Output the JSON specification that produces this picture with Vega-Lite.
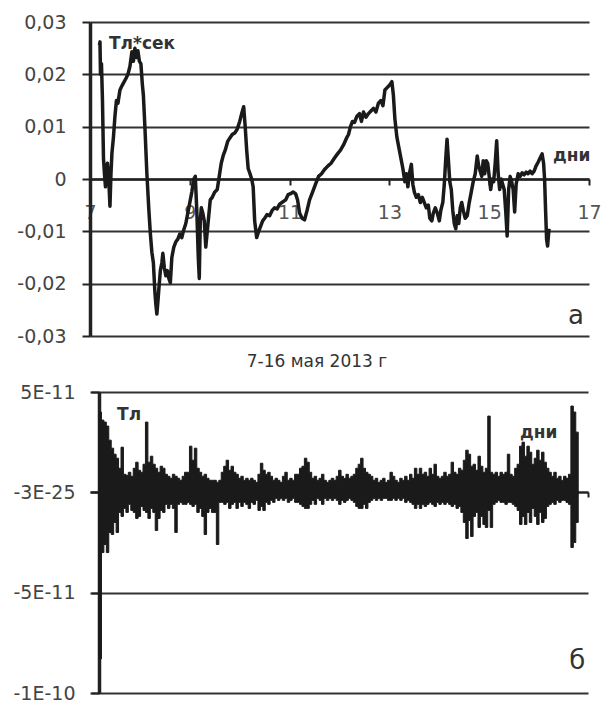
{
  "$schema": "https://vega.github.io/schema/vega-lite/v6.json",
  "padding": {"left": 4, "top": 13, "right": 5, "bottom": 0},
  "background": "white",
  "config": {"view": {"stroke": null}, "font": "DejaVu Sans", "concat": {"spacing": 7}},
  "datasets": {
    "top": [
      {"t":7.19,"v":0.0255},{"t":7.20,"v":0.0262},{"t":7.21,"v":0.0200},{"t":7.23,"v":0.0220},{"t":7.25,"v":0.0150},
      {"t":7.27,"v":0.0040},{"t":7.29,"v":0.0010},{"t":7.31,"v":-0.0015},{"t":7.33,"v":0.0020},{"t":7.35,"v":0.0030},
      {"t":7.38,"v":-0.0010},{"t":7.40,"v":-0.0052},{"t":7.42,"v":0.0010},{"t":7.44,"v":0.0050},{"t":7.47,"v":0.0080},
      {"t":7.50,"v":0.0120},{"t":7.53,"v":0.0150},{"t":7.56,"v":0.0145},{"t":7.60,"v":0.0170},{"t":7.64,"v":0.0178},
      {"t":7.68,"v":0.0185},{"t":7.72,"v":0.0192},{"t":7.76,"v":0.0200},{"t":7.80,"v":0.0215},{"t":7.84,"v":0.0243},
      {"t":7.87,"v":0.0225},{"t":7.90,"v":0.0250},{"t":7.93,"v":0.0232},{"t":7.96,"v":0.0245},{"t":7.99,"v":0.0225},
      {"t":8.02,"v":0.0220},{"t":8.05,"v":0.0180},{"t":8.07,"v":0.0160},{"t":8.10,"v":0.0100},{"t":8.14,"v":0.0010},
      {"t":8.18,"v":-0.0060},{"t":8.21,"v":-0.0105},{"t":8.24,"v":-0.0140},{"t":8.27,"v":-0.0160},{"t":8.30,"v":-0.0215},
      {"t":8.32,"v":-0.0240},{"t":8.34,"v":-0.0258},{"t":8.36,"v":-0.0235},{"t":8.38,"v":-0.0210},{"t":8.41,"v":-0.0175},
      {"t":8.44,"v":-0.0160},{"t":8.46,"v":-0.0142},{"t":8.49,"v":-0.0170},{"t":8.52,"v":-0.0185},{"t":8.55,"v":-0.0175},
      {"t":8.58,"v":-0.0190},{"t":8.61,"v":-0.0198},{"t":8.64,"v":-0.0150},{"t":8.68,"v":-0.0130},{"t":8.72,"v":-0.0120},
      {"t":8.76,"v":-0.0115},{"t":8.80,"v":-0.0105},{"t":8.84,"v":-0.0112},{"t":8.87,"v":-0.0100},{"t":8.92,"v":-0.0085},
      {"t":8.96,"v":-0.0065},{"t":9.00,"v":-0.0045},{"t":9.04,"v":-0.0025},{"t":9.08,"v":0.0000},{"t":9.11,"v":0.0005},
      {"t":9.14,"v":-0.0060},{"t":9.17,"v":-0.0150},{"t":9.19,"v":-0.0190},{"t":9.21,"v":-0.0080},{"t":9.23,"v":-0.0055},
      {"t":9.26,"v":-0.0065},{"t":9.29,"v":-0.0080},{"t":9.32,"v":-0.0130},{"t":9.35,"v":-0.0100},{"t":9.38,"v":-0.0070},
      {"t":9.41,"v":-0.0040},{"t":9.45,"v":-0.0035},{"t":9.50,"v":-0.0025},{"t":9.55,"v":-0.0020},{"t":9.59,"v":0.0005},
      {"t":9.63,"v":0.0030},{"t":9.67,"v":0.0045},{"t":9.71,"v":0.0055},{"t":9.76,"v":0.0072},{"t":9.80,"v":0.0078},
      {"t":9.85,"v":0.0085},{"t":9.90,"v":0.0088},{"t":9.95,"v":0.0095},{"t":10.00,"v":0.0110},{"t":10.04,"v":0.0125},
      {"t":10.08,"v":0.0138},{"t":10.11,"v":0.0100},{"t":10.14,"v":0.0055},{"t":10.17,"v":0.0020},{"t":10.20,"v":0.0012},
      {"t":10.24,"v":0.0000},{"t":10.27,"v":-0.0015},{"t":10.30,"v":-0.0080},{"t":10.34,"v":-0.0112},{"t":10.38,"v":-0.0100},
      {"t":10.42,"v":-0.0090},{"t":10.46,"v":-0.0080},{"t":10.50,"v":-0.0075},{"t":10.55,"v":-0.0068},{"t":10.60,"v":-0.0070},
      {"t":10.65,"v":-0.0060},{"t":10.70,"v":-0.0055},{"t":10.75,"v":-0.0057},{"t":10.80,"v":-0.0048},{"t":10.86,"v":-0.0044},
      {"t":10.92,"v":-0.0040},{"t":10.97,"v":-0.0030},{"t":11.02,"v":-0.0028},{"t":11.07,"v":-0.0025},{"t":11.12,"v":-0.0028},
      {"t":11.16,"v":-0.0040},{"t":11.20,"v":-0.0065},{"t":11.25,"v":-0.0075},{"t":11.30,"v":-0.0078},{"t":11.35,"v":-0.0060},
      {"t":11.40,"v":-0.0040},{"t":11.46,"v":-0.0025},{"t":11.52,"v":-0.0010},{"t":11.58,"v":0.0005},{"t":11.64,"v":0.0010},
      {"t":11.70,"v":0.0018},{"t":11.77,"v":0.0025},{"t":11.83,"v":0.0030},{"t":11.90,"v":0.0040},{"t":11.96,"v":0.0048},
      {"t":12.02,"v":0.0055},{"t":12.08,"v":0.0065},{"t":12.14,"v":0.0078},{"t":12.18,"v":0.0085},{"t":12.22,"v":0.0100},
      {"t":12.26,"v":0.0110},{"t":12.30,"v":0.0108},{"t":12.35,"v":0.0120},{"t":12.40,"v":0.0125},{"t":12.44,"v":0.0110},
      {"t":12.48,"v":0.0128},{"t":12.53,"v":0.0118},{"t":12.58,"v":0.0125},{"t":12.63,"v":0.0130},{"t":12.68,"v":0.0135},
      {"t":12.73,"v":0.0128},{"t":12.78,"v":0.0145},{"t":12.83,"v":0.0150},{"t":12.87,"v":0.0140},{"t":12.91,"v":0.0170},
      {"t":12.96,"v":0.0175},{"t":13.01,"v":0.0180},{"t":13.05,"v":0.0186},{"t":13.08,"v":0.0160},{"t":13.11,"v":0.0115},
      {"t":13.15,"v":0.0080},{"t":13.19,"v":0.0060},{"t":13.23,"v":0.0040},{"t":13.27,"v":0.0020},{"t":13.31,"v":-0.0005},
      {"t":13.34,"v":0.0010},{"t":13.37,"v":-0.0015},{"t":13.40,"v":0.0010},{"t":13.44,"v":0.0028},{"t":13.47,"v":-0.0010},
      {"t":13.50,"v":-0.0025},{"t":13.54,"v":-0.0035},{"t":13.58,"v":-0.0030},{"t":13.62,"v":-0.0045},{"t":13.66,"v":-0.0035},
      {"t":13.70,"v":-0.0045},{"t":13.74,"v":-0.0055},{"t":13.78,"v":-0.0050},{"t":13.81,"v":-0.0075},{"t":13.85,"v":-0.0080},
      {"t":13.88,"v":-0.0065},{"t":13.92,"v":-0.0055},{"t":13.96,"v":-0.0065},{"t":14.00,"v":-0.0080},{"t":14.03,"v":-0.0060},
      {"t":14.07,"v":-0.0045},{"t":14.10,"v":-0.0010},{"t":14.13,"v":0.0040},{"t":14.155,"v":0.0076},{"t":14.18,"v":0.0040},
      {"t":14.21,"v":-0.0005},{"t":14.24,"v":-0.0020},{"t":14.27,"v":-0.0060},{"t":14.30,"v":-0.0085},{"t":14.33,"v":-0.0095},
      {"t":14.36,"v":-0.0070},{"t":14.39,"v":-0.0085},{"t":14.42,"v":-0.0055},{"t":14.45,"v":-0.0045},{"t":14.48,"v":-0.0060},
      {"t":14.52,"v":-0.0075},{"t":14.56,"v":-0.0070},{"t":14.60,"v":-0.0045},{"t":14.64,"v":-0.0025},{"t":14.68,"v":-0.0005},
      {"t":14.72,"v":0.0010},{"t":14.76,"v":0.0044},{"t":14.79,"v":0.0025},{"t":14.82,"v":0.0015},{"t":14.85,"v":0.0005},
      {"t":14.88,"v":0.0035},{"t":14.91,"v":0.0010},{"t":14.94,"v":0.0035},{"t":14.97,"v":0.0030},{"t":15.00,"v":0.0005},
      {"t":15.03,"v":-0.0020},{"t":15.06,"v":0.0000},{"t":15.09,"v":-0.0005},{"t":15.12,"v":0.0030},{"t":15.15,"v":0.0073},
      {"t":15.18,"v":0.0010},{"t":15.21,"v":-0.0020},{"t":15.24,"v":0.0000},{"t":15.27,"v":-0.0010},{"t":15.30,"v":-0.0020},
      {"t":15.33,"v":-0.0060},{"t":15.36,"v":-0.0109},{"t":15.39,"v":-0.0020},{"t":15.42,"v":0.0005},{"t":15.45,"v":-0.0005},
      {"t":15.48,"v":-0.0020},{"t":15.51,"v":-0.0063},{"t":15.54,"v":-0.0010},{"t":15.58,"v":0.0010},{"t":15.62,"v":0.0005},
      {"t":15.66,"v":0.0012},{"t":15.70,"v":0.0008},{"t":15.74,"v":0.0013},{"t":15.78,"v":0.0010},{"t":15.82,"v":0.0015},
      {"t":15.86,"v":0.0010},{"t":15.90,"v":0.0015},{"t":15.94,"v":0.0025},{"t":15.98,"v":0.0032},{"t":16.02,"v":0.0040},
      {"t":16.06,"v":0.0048},{"t":16.09,"v":0.0030},{"t":16.11,"v":0.0000},{"t":16.13,"v":-0.0060},{"t":16.15,"v":-0.0115},
      {"t":16.17,"v":-0.0128},{"t":16.19,"v":-0.0105},{"t":16.20,"v":-0.0095}
    ],
    "bot": [
      {"t":7.00,"hi":4.0e-11,"lo":-8.3e-11},{"t":7.05,"hi":3.6e-11,"lo":-3.0e-11},{"t":7.10,"hi":3.5e-11,"lo":-2.6e-11},
      {"t":7.15,"hi":3.3e-11,"lo":-3.0e-11},{"t":7.20,"hi":2.6e-11,"lo":-2.0e-11},{"t":7.25,"hi":2.2e-11,"lo":-2.1e-11},
      {"t":7.30,"hi":1.9e-11,"lo":-1.5e-11},{"t":7.35,"hi":1.7e-11,"lo":-2.0e-11},{"t":7.40,"hi":1.2e-11,"lo":-1.0e-11},
      {"t":7.45,"hi":2.25e-11,"lo":-1.2e-11},{"t":7.50,"hi":0.9e-11,"lo":-0.8e-11},{"t":7.55,"hi":0.85e-11,"lo":-1.0e-11},
      {"t":7.60,"hi":1.0e-11,"lo":-0.6e-11},{"t":7.65,"hi":0.8e-11,"lo":-0.9e-11},{"t":7.70,"hi":1.2e-11,"lo":-1.0e-11},
      {"t":7.75,"hi":1.5e-11,"lo":-1.3e-11},{"t":7.80,"hi":1.1e-11,"lo":-1.2e-11},{"t":7.85,"hi":1.0e-11,"lo":-0.7e-11},
      {"t":7.90,"hi":1.4e-11,"lo":-0.9e-11},{"t":7.95,"hi":3.5e-11,"lo":-1.0e-11},{"t":8.00,"hi":1.5e-11,"lo":-1.3e-11},
      {"t":8.05,"hi":1.8e-11,"lo":-0.8e-11},{"t":8.10,"hi":1.4e-11,"lo":-1.0e-11},{"t":8.15,"hi":1.2e-11,"lo":-1.9e-11},
      {"t":8.20,"hi":1.0e-11,"lo":-1.3e-11},{"t":8.25,"hi":1.3e-11,"lo":-0.9e-11},{"t":8.30,"hi":1.2e-11,"lo":-1.0e-11},
      {"t":8.35,"hi":0.9e-11,"lo":-0.6e-11},{"t":8.40,"hi":0.8e-11,"lo":-0.8e-11},{"t":8.45,"hi":0.7e-11,"lo":-0.6e-11},
      {"t":8.50,"hi":0.9e-11,"lo":-0.8e-11},{"t":8.55,"hi":0.8e-11,"lo":-2.0e-11},{"t":8.60,"hi":0.7e-11,"lo":-0.6e-11},
      {"t":8.65,"hi":0.6e-11,"lo":-0.5e-11},{"t":8.70,"hi":0.8e-11,"lo":-0.6e-11},{"t":8.75,"hi":1.0e-11,"lo":-0.6e-11},
      {"t":8.80,"hi":1.0e-11,"lo":-0.5e-11},{"t":8.85,"hi":2.3e-11,"lo":-0.6e-11},{"t":8.90,"hi":1.6e-11,"lo":-0.7e-11},
      {"t":8.95,"hi":2.2e-11,"lo":-0.6e-11},{"t":9.00,"hi":1.2e-11,"lo":-1.0e-11},{"t":9.05,"hi":1.0e-11,"lo":-0.8e-11},
      {"t":9.10,"hi":0.8e-11,"lo":-1.2e-11},{"t":9.15,"hi":0.9e-11,"lo":-2.1e-11},{"t":9.20,"hi":0.7e-11,"lo":-1.0e-11},
      {"t":9.25,"hi":0.6e-11,"lo":-0.8e-11},{"t":9.30,"hi":0.6e-11,"lo":-1.0e-11},{"t":9.35,"hi":0.6e-11,"lo":-1.0e-11},
      {"t":9.40,"hi":0.5e-11,"lo":-2.6e-11},{"t":9.45,"hi":0.6e-11,"lo":-0.5e-11},{"t":9.50,"hi":1.0e-11,"lo":-0.5e-11},
      {"t":9.55,"hi":1.3e-11,"lo":-0.6e-11},{"t":9.60,"hi":1.6e-11,"lo":-0.5e-11},{"t":9.65,"hi":1.1e-11,"lo":-0.8e-11},
      {"t":9.70,"hi":1.3e-11,"lo":-0.6e-11},{"t":9.75,"hi":1.0e-11,"lo":-0.5e-11},{"t":9.80,"hi":0.9e-11,"lo":-0.8e-11},
      {"t":9.85,"hi":0.7e-11,"lo":-0.5e-11},{"t":9.90,"hi":0.8e-11,"lo":-0.7e-11},{"t":9.95,"hi":0.6e-11,"lo":-0.5e-11},
      {"t":10.00,"hi":0.7e-11,"lo":-0.6e-11},{"t":10.05,"hi":0.6e-11,"lo":-0.8e-11},{"t":10.10,"hi":0.7e-11,"lo":-0.5e-11},
      {"t":10.15,"hi":0.6e-11,"lo":-0.6e-11},{"t":10.20,"hi":0.5e-11,"lo":-0.4e-11},{"t":10.25,"hi":0.9e-11,"lo":-0.9e-11},
      {"t":10.30,"hi":1.45e-11,"lo":-0.7e-11},{"t":10.35,"hi":1.1e-11,"lo":-0.9e-11},{"t":10.40,"hi":0.9e-11,"lo":-0.5e-11},
      {"t":10.45,"hi":1.0e-11,"lo":-0.6e-11},{"t":10.50,"hi":0.8e-11,"lo":-0.4e-11},{"t":10.55,"hi":0.6e-11,"lo":-0.5e-11},
      {"t":10.60,"hi":0.7e-11,"lo":-0.3e-11},{"t":10.65,"hi":0.6e-11,"lo":-0.4e-11},{"t":10.70,"hi":0.5e-11,"lo":-0.3e-11},
      {"t":10.75,"hi":0.8e-11,"lo":-0.4e-11},{"t":10.80,"hi":1.0e-11,"lo":-0.3e-11},{"t":10.85,"hi":0.6e-11,"lo":-0.5e-11},
      {"t":10.90,"hi":0.7e-11,"lo":-0.4e-11},{"t":10.95,"hi":0.6e-11,"lo":-0.3e-11},{"t":11.00,"hi":0.9e-11,"lo":-0.5e-11},
      {"t":11.05,"hi":0.9e-11,"lo":-0.5e-11},{"t":11.10,"hi":1.2e-11,"lo":-0.6e-11},{"t":11.15,"hi":1.3e-11,"lo":-0.7e-11},
      {"t":11.20,"hi":1.7e-11,"lo":-0.8e-11},{"t":11.25,"hi":1.5e-11,"lo":-0.8e-11},{"t":11.30,"hi":1.0e-11,"lo":-0.6e-11},
      {"t":11.35,"hi":0.7e-11,"lo":-0.4e-11},{"t":11.40,"hi":0.8e-11,"lo":-0.6e-11},{"t":11.45,"hi":0.6e-11,"lo":-0.3e-11},
      {"t":11.50,"hi":0.7e-11,"lo":-0.4e-11},{"t":11.55,"hi":0.9e-11,"lo":-0.6e-11},{"t":11.60,"hi":0.6e-11,"lo":-0.3e-11},
      {"t":11.65,"hi":0.5e-11,"lo":-0.4e-11},{"t":11.70,"hi":0.6e-11,"lo":-0.3e-11},{"t":11.75,"hi":0.7e-11,"lo":-0.4e-11},
      {"t":11.80,"hi":0.6e-11,"lo":-0.3e-11},{"t":11.85,"hi":0.8e-11,"lo":-0.4e-11},{"t":11.90,"hi":1.1e-11,"lo":-0.6e-11},
      {"t":11.95,"hi":0.8e-11,"lo":-0.4e-11},{"t":12.00,"hi":0.7e-11,"lo":-0.5e-11},{"t":12.05,"hi":0.9e-11,"lo":-0.4e-11},
      {"t":12.10,"hi":0.7e-11,"lo":-0.3e-11},{"t":12.15,"hi":0.8e-11,"lo":-0.4e-11},{"t":12.20,"hi":0.9e-11,"lo":-0.5e-11},
      {"t":12.25,"hi":1.2e-11,"lo":-0.7e-11},{"t":12.30,"hi":1.4e-11,"lo":-0.8e-11},{"t":12.35,"hi":1.7e-11,"lo":-0.8e-11},
      {"t":12.40,"hi":1.2e-11,"lo":-0.6e-11},{"t":12.45,"hi":1.0e-11,"lo":-0.8e-11},{"t":12.50,"hi":0.9e-11,"lo":-0.5e-11},
      {"t":12.55,"hi":0.8e-11,"lo":-0.4e-11},{"t":12.60,"hi":0.6e-11,"lo":-0.3e-11},{"t":12.65,"hi":0.7e-11,"lo":-0.4e-11},
      {"t":12.70,"hi":0.5e-11,"lo":-0.3e-11},{"t":12.75,"hi":0.6e-11,"lo":-0.4e-11},{"t":12.80,"hi":0.7e-11,"lo":-0.3e-11},
      {"t":12.85,"hi":0.5e-11,"lo":-0.3e-11},{"t":12.90,"hi":0.6e-11,"lo":-0.4e-11},{"t":12.95,"hi":1.0e-11,"lo":-0.4e-11},
      {"t":13.00,"hi":0.8e-11,"lo":-0.3e-11},{"t":13.05,"hi":0.6e-11,"lo":-0.4e-11},{"t":13.10,"hi":0.5e-11,"lo":-0.3e-11},
      {"t":13.15,"hi":0.7e-11,"lo":-0.4e-11},{"t":13.20,"hi":0.6e-11,"lo":-0.3e-11},{"t":13.25,"hi":0.8e-11,"lo":-0.5e-11},
      {"t":13.30,"hi":0.6e-11,"lo":-0.4e-11},{"t":13.35,"hi":0.9e-11,"lo":-0.5e-11},{"t":13.40,"hi":0.7e-11,"lo":-0.6e-11},
      {"t":13.45,"hi":1.2e-11,"lo":-0.8e-11},{"t":13.50,"hi":0.9e-11,"lo":-0.6e-11},{"t":13.55,"hi":1.2e-11,"lo":-0.8e-11},
      {"t":13.60,"hi":0.9e-11,"lo":-0.6e-11},{"t":13.65,"hi":1.0e-11,"lo":-0.7e-11},{"t":13.70,"hi":0.8e-11,"lo":-0.6e-11},
      {"t":13.75,"hi":1.2e-11,"lo":-0.5e-11},{"t":13.80,"hi":0.9e-11,"lo":-0.6e-11},{"t":13.85,"hi":1.4e-11,"lo":-0.7e-11},
      {"t":13.90,"hi":0.8e-11,"lo":-0.5e-11},{"t":13.95,"hi":0.7e-11,"lo":-0.6e-11},{"t":14.00,"hi":0.8e-11,"lo":-0.5e-11},
      {"t":14.05,"hi":1.0e-11,"lo":-0.6e-11},{"t":14.10,"hi":0.8e-11,"lo":-0.5e-11},{"t":14.15,"hi":0.9e-11,"lo":-0.6e-11},
      {"t":14.20,"hi":1.5e-11,"lo":-0.7e-11},{"t":14.25,"hi":1.0e-11,"lo":-0.6e-11},{"t":14.30,"hi":0.9e-11,"lo":-0.8e-11},
      {"t":14.35,"hi":1.2e-11,"lo":-0.7e-11},{"t":14.40,"hi":1.1e-11,"lo":-1.0e-11},{"t":14.45,"hi":1.6e-11,"lo":-1.5e-11},
      {"t":14.50,"hi":2.1e-11,"lo":-2.3e-11},{"t":14.55,"hi":1.9e-11,"lo":-1.4e-11},{"t":14.60,"hi":1.3e-11,"lo":-2.2e-11},
      {"t":14.65,"hi":1.4e-11,"lo":-1.2e-11},{"t":14.70,"hi":1.1e-11,"lo":-1.0e-11},{"t":14.75,"hi":1.8e-11,"lo":-1.75e-11},
      {"t":14.80,"hi":1.3e-11,"lo":-1.2e-11},{"t":14.85,"hi":1.0e-11,"lo":-1.6e-11},{"t":14.90,"hi":1.2e-11,"lo":-1.75e-11},
      {"t":14.95,"hi":3.8e-11,"lo":-0.9e-11},{"t":15.00,"hi":1.0e-11,"lo":-1.75e-11},{"t":15.05,"hi":0.9e-11,"lo":-0.6e-11},
      {"t":15.10,"hi":1.0e-11,"lo":-0.5e-11},{"t":15.15,"hi":0.8e-11,"lo":-0.4e-11},{"t":15.20,"hi":1.0e-11,"lo":-0.5e-11},
      {"t":15.25,"hi":0.9e-11,"lo":-0.5e-11},{"t":15.30,"hi":1.0e-11,"lo":-0.6e-11},{"t":15.35,"hi":1.9e-11,"lo":-0.5e-11},
      {"t":15.40,"hi":0.9e-11,"lo":-0.5e-11},{"t":15.45,"hi":0.8e-11,"lo":-0.6e-11},{"t":15.50,"hi":1.2e-11,"lo":-0.7e-11},
      {"t":15.55,"hi":1.4e-11,"lo":-0.9e-11},{"t":15.60,"hi":2.3e-11,"lo":-1.6e-11},{"t":15.65,"hi":2.5e-11,"lo":-1.2e-11},
      {"t":15.70,"hi":1.8e-11,"lo":-1.6e-11},{"t":15.75,"hi":2.3e-11,"lo":-1.0e-11},{"t":15.80,"hi":2.0e-11,"lo":-1.5e-11},
      {"t":15.85,"hi":1.4e-11,"lo":-0.8e-11},{"t":15.90,"hi":1.7e-11,"lo":-1.2e-11},{"t":15.95,"hi":2.1e-11,"lo":-1.6e-11},
      {"t":16.00,"hi":1.6e-11,"lo":-1.0e-11},{"t":16.05,"hi":2.0e-11,"lo":-1.5e-11},{"t":16.10,"hi":1.5e-11,"lo":-1.3e-11},
      {"t":16.15,"hi":1.2e-11,"lo":-0.7e-11},{"t":16.20,"hi":1.0e-11,"lo":-0.6e-11},{"t":16.25,"hi":0.8e-11,"lo":-0.5e-11},
      {"t":16.30,"hi":1.0e-11,"lo":-0.6e-11},{"t":16.35,"hi":0.7e-11,"lo":-0.4e-11},{"t":16.40,"hi":0.8e-11,"lo":-0.5e-11},
      {"t":16.45,"hi":0.6e-11,"lo":-0.4e-11},{"t":16.50,"hi":0.8e-11,"lo":-0.4e-11},{"t":16.55,"hi":0.7e-11,"lo":-0.5e-11},
      {"t":16.60,"hi":0.9e-11,"lo":-0.6e-11},{"t":16.65,"hi":4.3e-11,"lo":-2.75e-11},{"t":16.70,"hi":4.0e-11,"lo":-2.5e-11},
      {"t":16.75,"hi":3.0e-11,"lo":-1.5e-11},{"t":16.80,"hi":0.5e-11,"lo":-0.3e-11}
    ]
  },
  "vconcat": [
    {
      "width": 499,
      "height": 314,
      "layer": [
        {
          "data": {"name": "top"},
          "mark": {"type": "line", "color": "#1a1a1a", "strokeWidth": 3.5, "strokeJoin": "round"},
          "encoding": {
            "x": {
              "field": "t", "type": "quantitative",
              "scale": {"domain": [7, 17], "nice": false, "zero": false},
              "axis": {
                "orient": "bottom", "offset": -157, "values": [7, 9, 11, 13, 15, 17], "format": "d",
                "grid": false, "domainColor": "#222", "domainWidth": 2.5,
                "tickSize": 6, "tickColor": "#222", "tickWidth": 2,
                "labelFontSize": 19, "labelColor": "#555", "labelPadding": 18,
                "labelFlush": false, "labelOverlap": false, "labelBound": false, "title": null
              }
            },
            "y": {
              "field": "v", "type": "quantitative",
              "scale": {"domain": [-0.03, 0.03], "nice": false},
              "axis": {
                "values": [-0.03, -0.02, -0.01, 0, 0.01, 0.02, 0.03],
                "labelExpr": "datum.value == 0 ? '0' : (datum.value < 0 ? '-' : '') + '0,0' + format(abs(datum.value) * 100, 'd')",
                "grid": true, "gridColor": "#333", "gridWidth": 2,
                "domainColor": "#222", "domainWidth": 3.5,
                "tickSize": 8, "tickColor": "#222", "tickWidth": 2,
                "labelFontSize": 19, "labelColor": "#444", "labelPadding": 16,
                "title": "x", "titleOpacity": 0, "titleFontSize": 1, "titlePadding": 0,
                "minExtent": 85, "maxExtent": 85
              }
            }
          }
        },
        {
          "data": {"values": [{}]},
          "mark": {"type": "text", "align": "left", "baseline": "middle", "fontSize": 17, "fontWeight": "bold", "color": "#333"},
          "encoding": {"x": {"datum": 7.38}, "y": {"datum": 0.0258}, "text": {"value": "Тл*сек"}}
        },
        {
          "data": {"values": [{}]},
          "mark": {"type": "text", "align": "left", "baseline": "middle", "fontSize": 17, "fontWeight": "bold", "color": "#333"},
          "encoding": {"x": {"datum": 16.28}, "y": {"datum": 0.0044}, "text": {"value": "дни"}}
        },
        {
          "data": {"values": [{}]},
          "mark": {"type": "text", "align": "center", "baseline": "middle", "fontSize": 26, "color": "#333"},
          "encoding": {"x": {"datum": 16.74}, "y": {"datum": -0.0262}, "text": {"value": "а"}}
        }
      ]
    },
    {
      "width": 498,
      "height": 301,
      "title": {"text": "7-16 мая 2013 г", "fontSize": 17, "fontWeight": "normal", "color": "#333", "anchor": "middle", "frame": "group", "dx": -22, "offset": 12},
      "layer": [
        {
          "data": {"name": "bot"},
          "mark": {"type": "area", "color": "#1a1a1a", "interpolate": "step-after", "stroke": "#1a1a1a", "strokeWidth": 1, "opacity": 1},
          "encoding": {
            "x": {
              "field": "t", "type": "quantitative",
              "scale": {"domain": [6.816, 17], "nice": false, "zero": false},
              "axis": {
                "orient": "bottom", "offset": -201, "values": [7, 9, 11, 13, 15, 17],
                "grid": false, "labels": false, "domainColor": "#222", "domainWidth": 2,
                "tickSize": 5, "tickColor": "#222", "tickWidth": 2, "title": null
              }
            },
            "y": {
              "field": "hi", "type": "quantitative",
              "scale": {"domain": [-1e-10, 5e-11], "nice": false},
              "axis": {
                "values": [5e-11, 0, -5e-11, -1e-10], "offset": -9,
                "labelExpr": "datum.value == 0 ? '-3E-25' : (datum.value > 0 ? '5E-11' : (datum.value < -7e-11 ? '-1E-10' : '-5E-11'))",
                "grid": true, "gridColor": "#333", "gridWidth": 2,
                "domainColor": "#222", "domainWidth": 3.5,
                "tickSize": 8, "tickColor": "#222", "tickWidth": 2,
                "labelFontSize": 19, "labelColor": "#444", "labelPadding": 16,
                "title": "x", "titleOpacity": 0, "titleFontSize": 1, "titlePadding": 0,
                "minExtent": 85, "maxExtent": 85
              }
            },
            "y2": {"field": "lo"}
          }
        },
        {
          "data": {"values": [{}]},
          "mark": {"type": "text", "align": "left", "baseline": "middle", "fontSize": 17, "fontWeight": "bold", "color": "#333"},
          "encoding": {"x": {"datum": 7.37}, "y": {"datum": 3.85e-11}, "text": {"value": "Тл"}}
        },
        {
          "data": {"values": [{}]},
          "mark": {"type": "text", "align": "left", "baseline": "middle", "fontSize": 17, "fontWeight": "bold", "color": "#333"},
          "encoding": {"x": {"datum": 15.61}, "y": {"datum": 2.95e-11}, "text": {"value": "дни"}}
        },
        {
          "data": {"values": [{}]},
          "mark": {"type": "text", "align": "center", "baseline": "middle", "fontSize": 26, "color": "#333"},
          "encoding": {"x": {"datum": 16.78}, "y": {"datum": -8.4e-11}, "text": {"value": "б"}}
        }
      ]
    }
  ]
}
